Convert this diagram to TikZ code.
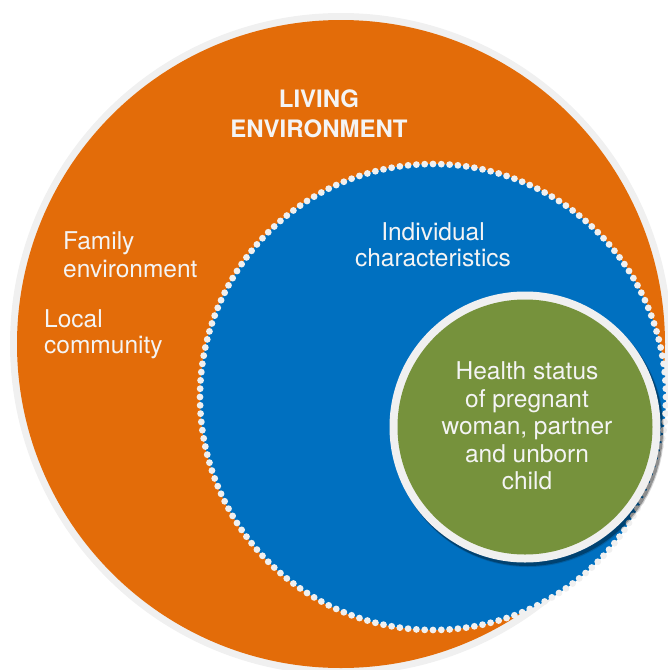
\documentclass[tikz,border=0pt]{standalone}
\usepackage{fontspec}
\setmainfont{TeX Gyre Heros}
\definecolor{envorange}{HTML}{E36C09}
\definecolor{indblue}{HTML}{0070C0}
\definecolor{healthgreen}{HTML}{76923C}
\definecolor{ringgray}{HTML}{F0F0F0}
\definecolor{labelwhite}{HTML}{F4F4F4}
\begin{document}
\begin{tikzpicture}[x=1pt,y=-1pt,
  disc/.style={circle, inner sep=0pt, outer sep=0pt, minimum size=#1},
  label/.style={text=labelwhite, inner sep=0pt},
  biglabel/.style={label, font=\fontsize{24.5}{#1}\selectfont}]
\useasboundingbox (0,0) rectangle (668,670);
\clip (0,0) rectangle (668,670);

% living environment: orange disc with a light rim
\node[disc=662pt, fill=ringgray] (envrim) at (341,344) {};
\node[disc=648pt, fill=envorange] (env) at (envrim.center) {};

% individual characteristics: blue disc edged with a string of dots
\node[disc=466pt, fill=indblue] (indiv) at (433,397) {};
\foreach \a in {0,...,175}
  \fill[ringgray] (indiv.center) ++(\a*2.0454545:233pt) circle[radius=3.4pt];

% health status: green disc with rim and soft shadow
\node[disc=272pt, fill=black, opacity=0.15] (hshadowa) at (528,431) {};
\node[disc=271pt, fill=black, opacity=0.30] (hshadowb) at (527.5,430.5) {};
\node[disc=271pt, fill=ringgray] (healthrim) at (525,427) {};
\node[disc=255pt, fill=healthgreen] (health) at (healthrim.center) {};

% labels
\node[biglabel=30pt, align=center, font=\bfseries\fontsize{24}{30}\selectfont]
  (livinglbl) at (319,113.5) {LIVING\\ENVIRONMENT};
\node[biglabel=28pt, align=left, anchor=west]
  (familylbl) at (63,255) {Family\\environment};
\node[biglabel=26pt, align=left, anchor=west]
  (locallbl) at (44,334) {Local\\community};
\node[biglabel=26pt, align=center]
  (indivlbl) at (433,245) {Individual\\characteristics};
\node[biglabel=27.5pt, align=center]
  (healthlbl) at (527,426) {Health status\\of pregnant\\woman, partner\\and unborn\\child};
\end{tikzpicture}
\end{document}
